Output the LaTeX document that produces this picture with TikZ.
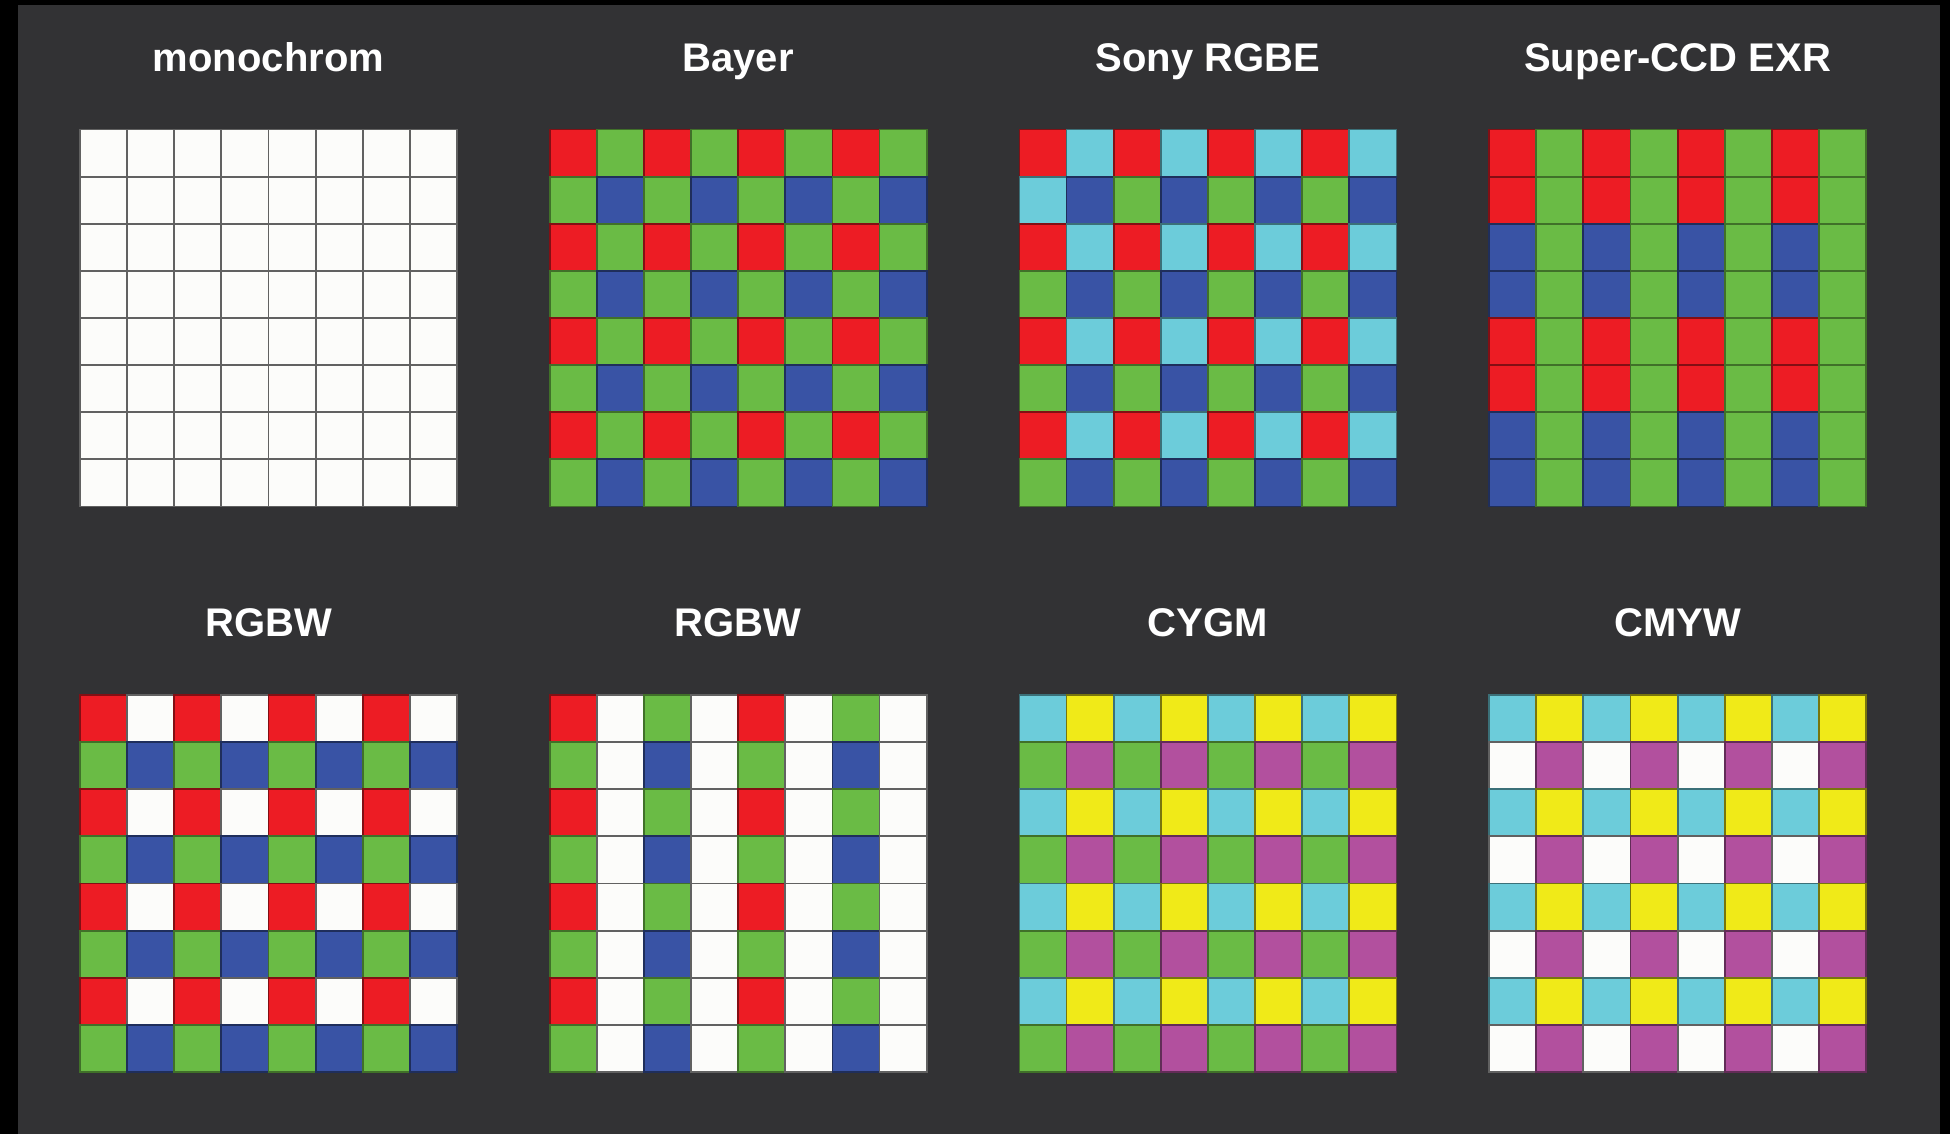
\documentclass[tikz,border=0pt]{standalone}
\usepackage{fontspec}
\setmainfont{Liberation Sans}
\definecolor{bgc}{RGB}{50,50,52}
\definecolor{cR}{RGB}{237,28,36}
\definecolor{cG}{RGB}{106,187,69}
\definecolor{cB}{RGB}{57,83,165}
\definecolor{cC}{RGB}{108,204,218}
\definecolor{cY}{RGB}{240,234,24}
\definecolor{cM}{RGB}{178,80,158}
\definecolor{cW}{RGB}{252,252,250}
\colorlet{cRd}{cR!55!black}
\colorlet{cGd}{cG!60!black}
\colorlet{cBd}{cB!55!black}
\colorlet{cCd}{cC!55!black}
\colorlet{cYd}{cY!50!black}
\colorlet{cMd}{cM!55!black}
\colorlet{cWd}{black!62}
\newcommand\cellsz{47.125}
\newcommand\drawgrid[3]{%
  \foreach \rowlist [count=\r from 0] in {#3} {
    \foreach \c [count=\k from 0] in \rowlist {
      \path[cell=\c] ({#1+\k*\cellsz},{#2+\r*\cellsz}) rectangle ++(\cellsz,\cellsz);
    }
  }%
}
\begin{document}
\begin{tikzpicture}[x=1pt,y=-1pt,
  cell/.style={fill=c#1, draw=c#1d, line width=1.8pt},
  title/.style={anchor=base, text=white, inner sep=0pt,
    font=\fontsize{40}{42}\selectfont\bfseries}]
\useasboundingbox (0,0) rectangle (1950,1133);
\fill[black] (0,0) rectangle (1950,1140);
\fill[bgc] (18,5) rectangle (1940,1140);
% titles
\node[title] (t1) at (268.5,71.5) {monochrom};
\node[title] (t2) at (738.2,71.5) {Bayer};
\node[title] (t3) at (1207.9,71.5) {Sony RGBE};
\node[title] (t4) at (1677.6,71.5) {Super-CCD EXR};
\node[title] (t5) at (268.5,636.5) {RGBW};
\node[title] (t6) at (738.2,636.5) {RGBW};
\node[title] (t7) at (1207.9,636.5) {CYGM};
\node[title] (t8) at (1677.6,636.5) {CMYW};
% monochrom
\drawgrid{80}{129.5}{{W,W,W,W,W,W,W,W},{W,W,W,W,W,W,W,W},{W,W,W,W,W,W,W,W},{W,W,W,W,W,W,W,W},{W,W,W,W,W,W,W,W},{W,W,W,W,W,W,W,W},{W,W,W,W,W,W,W,W},{W,W,W,W,W,W,W,W}}
% Bayer
\drawgrid{549.7}{129.5}{{R,G,R,G,R,G,R,G},{G,B,G,B,G,B,G,B},{R,G,R,G,R,G,R,G},{G,B,G,B,G,B,G,B},{R,G,R,G,R,G,R,G},{G,B,G,B,G,B,G,B},{R,G,R,G,R,G,R,G},{G,B,G,B,G,B,G,B}}
% Sony RGBE
\drawgrid{1019.4}{129.5}{{R,C,R,C,R,C,R,C},{C,B,G,B,G,B,G,B},{R,C,R,C,R,C,R,C},{G,B,G,B,G,B,G,B},{R,C,R,C,R,C,R,C},{G,B,G,B,G,B,G,B},{R,C,R,C,R,C,R,C},{G,B,G,B,G,B,G,B}}
% Super-CCD EXR
\drawgrid{1489.1}{129.5}{{R,G,R,G,R,G,R,G},{R,G,R,G,R,G,R,G},{B,G,B,G,B,G,B,G},{B,G,B,G,B,G,B,G},{R,G,R,G,R,G,R,G},{R,G,R,G,R,G,R,G},{B,G,B,G,B,G,B,G},{B,G,B,G,B,G,B,G}}
% RGBW 1
\drawgrid{80}{695}{{R,W,R,W,R,W,R,W},{G,B,G,B,G,B,G,B},{R,W,R,W,R,W,R,W},{G,B,G,B,G,B,G,B},{R,W,R,W,R,W,R,W},{G,B,G,B,G,B,G,B},{R,W,R,W,R,W,R,W},{G,B,G,B,G,B,G,B}}
% RGBW 2
\drawgrid{549.7}{695}{{R,W,G,W,R,W,G,W},{G,W,B,W,G,W,B,W},{R,W,G,W,R,W,G,W},{G,W,B,W,G,W,B,W},{R,W,G,W,R,W,G,W},{G,W,B,W,G,W,B,W},{R,W,G,W,R,W,G,W},{G,W,B,W,G,W,B,W}}
% CYGM
\drawgrid{1019.4}{695}{{C,Y,C,Y,C,Y,C,Y},{G,M,G,M,G,M,G,M},{C,Y,C,Y,C,Y,C,Y},{G,M,G,M,G,M,G,M},{C,Y,C,Y,C,Y,C,Y},{G,M,G,M,G,M,G,M},{C,Y,C,Y,C,Y,C,Y},{G,M,G,M,G,M,G,M}}
% CMYW
\drawgrid{1489.1}{695}{{C,Y,C,Y,C,Y,C,Y},{W,M,W,M,W,M,W,M},{C,Y,C,Y,C,Y,C,Y},{W,M,W,M,W,M,W,M},{C,Y,C,Y,C,Y,C,Y},{W,M,W,M,W,M,W,M},{C,Y,C,Y,C,Y,C,Y},{W,M,W,M,W,M,W,M}}
\end{tikzpicture}
\end{document}
